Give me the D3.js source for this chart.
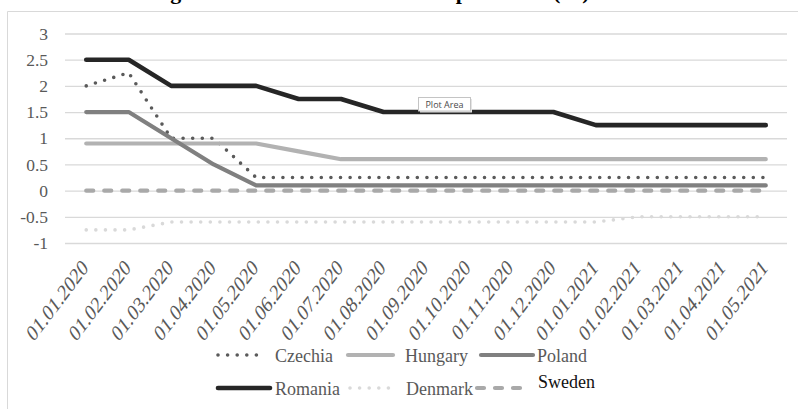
<!DOCTYPE html>
<html>
<head>
<meta charset="utf-8">
<script src="https://cdn.jsdelivr.net/npm/d3@7"></script>
<style>
  html, body { margin: 0; padding: 0; background: #fff; }
  svg { display: block; }
</style>
</head>
<body>
<svg id="chart" width="798" height="409"></svg>
<script>
// Monthly dates (first of month)
const categories = [
  "01.01.2020", "01.02.2020", "01.03.2020", "01.04.2020", "01.05.2020",
  "01.06.2020", "01.07.2020", "01.08.2020", "01.09.2020", "01.10.2020",
  "01.11.2020", "01.12.2020", "01.01.2021", "01.02.2021", "01.03.2021",
  "01.04.2021", "01.05.2021"
];

// Policy rates, %
const czechia = [2, 2.25, 1, 1, 0.25, 0.25, 0.25, 0.25, 0.25, 0.25, 0.25, 0.25, 0.25, 0.25, 0.25, 0.25, 0.25];
const hungary = [0.9, 0.9, 0.9, 0.9, 0.9, 0.75, 0.6, 0.6, 0.6, 0.6, 0.6, 0.6, 0.6, 0.6, 0.6, 0.6, 0.6];
const poland  = [1.5, 1.5, 1, 0.5, 0.1, 0.1, 0.1, 0.1, 0.1, 0.1, 0.1, 0.1, 0.1, 0.1, 0.1, 0.1, 0.1];
const romania = [2.5, 2.5, 2, 2, 2, 1.75, 1.75, 1.5, 1.5, 1.5, 1.5, 1.5, 1.25, 1.25, 1.25, 1.25, 1.25];
const denmark = [-0.75, -0.75, -0.6, -0.6, -0.6, -0.6, -0.6, -0.6, -0.6, -0.6, -0.6, -0.6, -0.6, -0.5, -0.5, -0.5, -0.5];
const sweden  = [0, 0, 0, 0, 0, 0, 0, 0, 0, 0, 0, 0, 0, 0, 0, 0, 0];

const yTicks = [-1, -0.5, 0, 0.5, 1, 1.5, 2, 2.5, 3];
const yTickLabels = ["-1", "-0.5", "0", "0.5", "1", "1.5", "2", "2.5", "3"];

const titleText = "Change in central bank rates in the pandemic (%)";

const series = [
  { name: "Czechia", values: czechia, color: "#5a5a5a", width: 3.6, dash: "0,9.6", cap: "round" },
  { name: "Hungary", values: hungary, color: "#b2b2b2", width: 4.2, dash: null, cap: "round" },
  { name: "Poland",  values: poland,  color: "#808080", width: 4.2, dash: null, cap: "round" },
  { name: "Romania", values: romania, color: "#262626", width: 4.6, dash: null, cap: "round" },
  { name: "Denmark", values: denmark, color: "#d9d9d9", width: 3.6, dash: "0,9.6", cap: "round" },
  { name: "Sweden",  values: sweden,  color: "#a9a9a9", width: 4.2, dash: "7,11", cap: "round" }
];

const serif = "'Liberation Serif', 'Times New Roman', serif";
const svg = d3.select("#chart");

// Chart frame
svg.append("path")
  .attr("d", "M7.5,420 V11.5 H810")
  .attr("fill", "none")
  .attr("stroke", "#d9d9d9")
  .attr("stroke-width", 1);

// Title (top of the frame)
svg.append("text")
  .attr("x", 119)
  .attr("y", -1)
  .attr("font-family", serif)
  .attr("font-weight", "bold")
  .attr("font-size", 22)
  .attr("fill", "#000")
  .text(titleText);

const plot = { left: 65, right: 787, top: 33.5, bottom: 243 };

const x = d3.scaleBand().domain(categories).range([plot.left, plot.right]);
const cx = d => x(d) + x.bandwidth() / 2;
const y = d3.scaleLinear().domain([-1, 3]).range([plot.bottom, plot.top]);

// Gridlines and value labels
const yAxis = d3.axisLeft(y)
  .tickValues(yTicks)
  .tickSize(-(plot.right - plot.left))
  .tickPadding(17)
  .tickFormat((d, i) => yTickLabels[i]);

const gy = svg.append("g")
  .attr("transform", `translate(${plot.left},0)`)
  .call(yAxis);
gy.select(".domain").remove();
gy.selectAll(".tick line").attr("stroke", "#d9d9d9").attr("stroke-width", 1.3);
gy.selectAll(".tick text")
  .attr("font-family", serif)
  .attr("font-size", 17.5)
  .attr("fill", "#595959");

// Category labels, slanted
const xAxis = d3.axisBottom(x).tickSize(0).tickPadding(0);
const gx = svg.append("g")
  .attr("transform", `translate(0,${plot.bottom})`)
  .call(xAxis);
gx.select(".domain").remove();
gx.selectAll(".tick text")
  .attr("font-family", serif)
  .attr("font-size", 17.5)
  .attr("fill", "#595959")
  .attr("text-anchor", "end")
  .attr("dy", 0)
  .attr("y", 0)
  .attr("transform", "translate(3,26) scale(1,1.32) rotate(-45)");

// Series lines
const line = d3.line()
  .x((d, i) => cx(categories[i]))
  .y(d => y(d));

svg.append("g").selectAll("path")
  .data(series)
  .join("path")
  .attr("d", s => line(s.values))
  .attr("fill", "none")
  .attr("stroke", s => s.color)
  .attr("stroke-width", s => s.width)
  .attr("stroke-linecap", s => s.cap)
  .attr("stroke-linejoin", "round")
  .attr("stroke-dasharray", s => s.dash);

// Hover tag over the plot
const tag = svg.append("g").attr("transform", "translate(418.5,97.5)");
tag.append("rect")
  .attr("x", 1.5).attr("y", 1.5)
  .attr("width", 52).attr("height", 13.5)
  .attr("fill", "#e4e4e4");
tag.append("rect")
  .attr("width", 52).attr("height", 13.5)
  .attr("fill", "#fff")
  .attr("stroke", "#c4c4c4")
  .attr("stroke-width", 1);
tag.append("text")
  .attr("x", 26).attr("y", 10.3)
  .attr("text-anchor", "middle")
  .attr("font-family", "'Open Sans', 'DejaVu Sans', sans-serif")
  .attr("font-size", 9)
  .attr("fill", "#4a4a4a")
  .text("Plot Area");

// Legend
const legendItems = [
  { s: series[0], x1: 218, x2: 265, ty: 355, tx: 275 },
  { s: series[1], x1: 348, x2: 393, ty: 355, tx: 405 },
  { s: series[2], x1: 481, x2: 533, ty: 355, tx: 537 },
  { s: series[3], x1: 218, x2: 270, ty: 388, tx: 275 },
  { s: series[4], x1: 350, x2: 395, ty: 388, tx: 406 },
  { s: series[5], x1: 477, x2: 527, ty: 388, tx: 538 }
];

const lg = svg.append("g").selectAll("g")
  .data(legendItems)
  .join("g");

lg.append("line")
  .attr("x1", d => d.x1).attr("x2", d => d.x2)
  .attr("y1", d => d.ty).attr("y2", d => d.ty)
  .attr("stroke", d => d.s.color)
  .attr("stroke-width", d => d.s.width)
  .attr("stroke-linecap", d => d.s.cap)
  .attr("stroke-dasharray", d => d.s.dash);

lg.append("text")
  .attr("x", d => d.tx)
  .attr("y", d => d.s.name === "Sweden" ? d.ty : d.ty + 6.5)
  .attr("font-family", serif)
  .attr("font-size", 18)
  .attr("fill", d => d.s.name === "Sweden" ? "#111" : "#595959")
  .text(d => d.s.name);
</script>
</body>
</html>
